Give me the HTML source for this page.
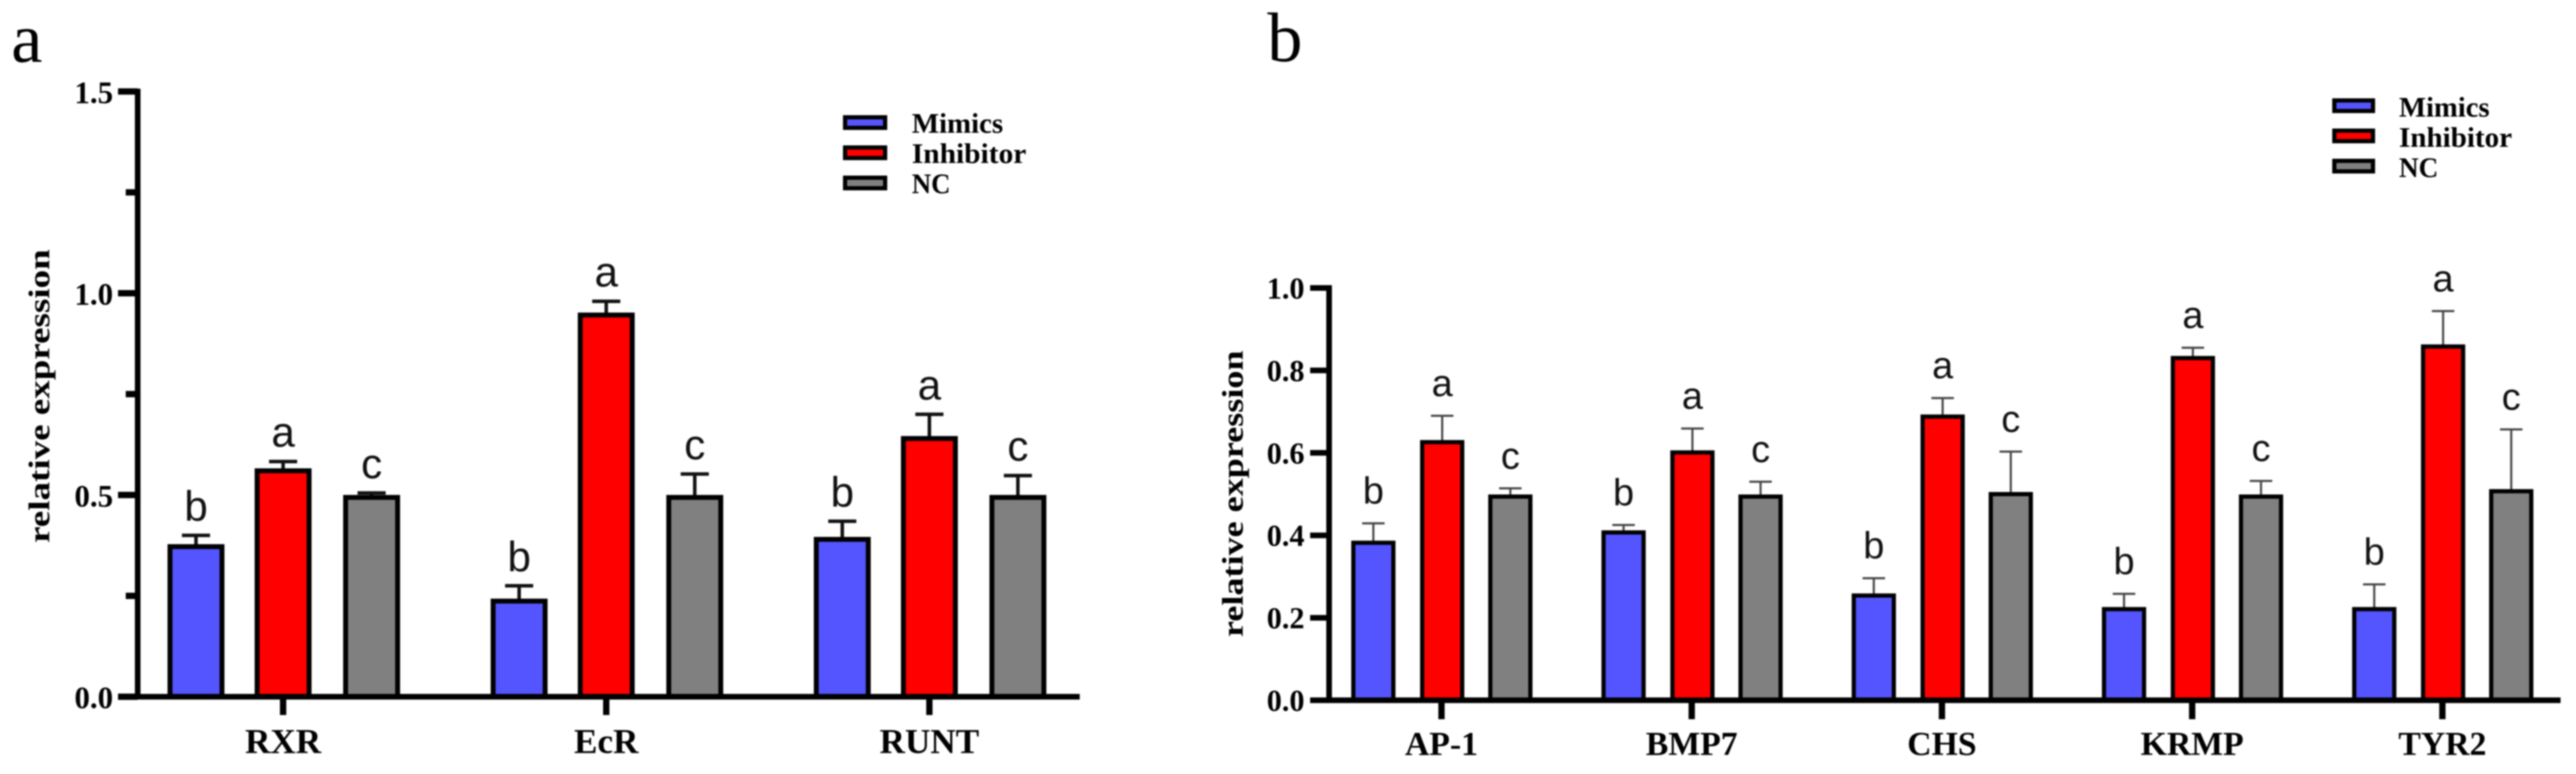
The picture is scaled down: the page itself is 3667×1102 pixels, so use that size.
<!DOCTYPE html>
<html lang="en">
<head>
<meta charset="utf-8">
<title>Relative expression bar charts</title>
<style>
html,body{margin:0;padding:0;background:#fff;width:3667px;height:1102px;overflow:hidden}
svg{display:block;filter:blur(1px)}
text{font-family:"Liberation Serif",serif;fill:#000}
.bold{font-weight:700}
.sans{font-family:"Liberation Sans",sans-serif;fill:#111}
</style>
</head>
<body>
<svg id="chart" xmlns="http://www.w3.org/2000/svg" width="3667" height="1102" viewBox="0 0 3667 1102">
  <rect x="0" y="0" width="3667" height="1102" fill="#fff"/>
  <text x="16" y="88" font-size="100">a</text>
  <text x="1804" y="87" font-size="100">b</text>
  <g id="panelA"></g>
  <g id="panelB"></g>
</svg>
<script>
// Shared
const seriesNames = ["Mimics", "Inhibitor", "NC"];
const seriesLetters = ["b", "a", "c"];
const seriesColors = ["#5555ff", "#ff0000", "#808080"];

// Panel a data
const categoriesA = ["RXR", "EcR", "RUNT"];
const mimicsA = [0.372, 0.237, 0.390];
const inhibitorA = [0.560, 0.946, 0.640];
const ncA = [0.494, 0.494, 0.494];
const mimicsErrA = [0.028, 0.038, 0.045];
const inhibitorErrA = [0.023, 0.034, 0.060];
const ncErrA = [0.011, 0.058, 0.054];
const majorTicksA = [0, 0.5, 1.0, 1.5];
const minorTicksA = [0.25, 0.75, 1.25];
const tickLabelsA = ["0.0", "0.5", "1.0", "1.5"];

// Panel b data
const categoriesB = ["AP-1", "BMP7", "CHS", "KRMP", "TYR2"];
const mimicsB = [0.382, 0.407, 0.254, 0.221, 0.221];
const inhibitorB = [0.626, 0.601, 0.688, 0.830, 0.858];
const ncB = [0.494, 0.494, 0.500, 0.494, 0.507];
const mimicsErrB = [0.047, 0.018, 0.042, 0.037, 0.060];
const inhibitorErrB = [0.064, 0.058, 0.045, 0.025, 0.086];
const ncErrB = [0.020, 0.036, 0.103, 0.038, 0.150];
const majorTicksB = [0, 0.2, 0.4, 0.6, 0.8, 1.0];
const minorTicksB = [];
const tickLabelsB = ["0.0", "0.2", "0.4", "0.6", "0.8", "1.0"];

const NS = "http://www.w3.org/2000/svg";
function make(parent, tag, attrs, txt) {
  const el = document.createElementNS(NS, tag);
  for (const k in attrs) el.setAttribute(k, attrs[k]);
  if (txt !== undefined) el.textContent = txt;
  parent.appendChild(el);
  return el;
}

function drawPanel(root, p, categories, values, errors, majors, minors, tickLabels) {
  const y = v => p.base - v * p.unit;
  const x = i => p.firstX + i * p.groupStep;

  // bars, error bars, significance letters
  categories.forEach((cat, i) => {
    values.forEach((series, s) => {
      const v = series[i];
      const e = errors[s][i];
      const cx = x(i) + p.offsets[s];
      const top = y(v + e);

      const stem = make(root, "line", {x1: cx, x2: cx, y1: y(v), y2: top, stroke: p.errColor, "stroke-width": p.errWidth});
      
      

      const cap = make(root, "line", {x1: cx - p.capW / 2, x2: cx + p.capW / 2, y1: top, y2: top, stroke: p.errColor, "stroke-width": p.errWidth});
      
      

      const bar = make(root, "rect", {x: cx - p.barW / 2, y: y(v), width: p.barW, height: p.base - y(v), fill: seriesColors[s], stroke: "#000", "stroke-width": p.barStroke});
      
      

      const letter = make(root, "text", {x: cx, y: top - p.letterGap, "text-anchor": "middle", "font-size": p.letterSize, class: "sans"}, seriesLetters[s]);
      
      
    });

    const tick = make(root, "line", {x1: x(i), x2: x(i), y1: p.base, y2: p.base + p.xTickLen, stroke: "#000", "stroke-width": 9});
    
    

    const lab = make(root, "text", {x: x(i), y: p.xLabelY, "text-anchor": "middle", "font-size": p.xFont, class: "bold"}, cat);
    
    
  });

  // axes
  const yAxis = make(root, "line", {x1: p.axisX, x2: p.axisX, y1: y(majors[majors.length - 1]) - 4, y2: p.base + 4, stroke: "#000", "stroke-width": 8});
  
  

  const xAxis = make(root, "line", {x1: p.xStart, x2: p.xEnd, y1: p.base, y2: p.base, stroke: "#000", "stroke-width": p.xAxisWidth});
  
  

  majors.forEach((t, i) => {
    const tk = make(root, "line", {x1: p.xStart, x2: p.axisX, y1: y(t), y2: y(t), stroke: "#000", "stroke-width": p.tickWidth});
    
    

    const lb = make(root, "text", {x: p.yLabelX, y: y(t) + p.yLabelDy, "text-anchor": "end", "font-size": p.yFont, class: "bold"}, tickLabels[i]);
    
    
  });

  minors.forEach(t => {
    const mt = make(root, "line", {x1: p.axisX - 17, x2: p.axisX, y1: y(t), y2: y(t), stroke: "#000", "stroke-width": p.tickWidth});
    
    
  });

  // axis title
  const title = make(root, "text", {
    x: 0, y: 0, "text-anchor": "middle", "font-size": p.titleFont, class: "bold",
    textLength: p.titleLen, lengthAdjust: "spacingAndGlyphs",
    transform: "translate(" + p.titleX + " " + p.titleY + ") rotate(-90)"
  }, "relative expression");
  
  

  // legend
  seriesNames.forEach((name, s) => {
    const yy = p.legendY + s * p.legendStep;
    const sw = make(root, "rect", {x: p.legendX, y: yy, width: p.swatchW, height: p.swatchH, fill: seriesColors[s], stroke: "#000", "stroke-width": 6});
    
    

    const tx = make(root, "text", {
      x: p.legendTextX, y: yy + p.legendTextDy, "font-size": 40, class: "bold",
      textLength: p.legendLens[s], lengthAdjust: "spacingAndGlyphs"
    }, name);
    
    
  });
}

drawPanel(document.getElementById("panelA"), {
  base: 992, unit: 574.5, firstX: 403, groupStep: 460, offsets: [-124, 0, 126],
  barW: 74, barStroke: 7, capW: 40, errWidth: 5, errColor: "#111", letterGap: 21, letterSize: 60,
  xTickLen: 26, xLabelY: 1072, xFont: 50, axisX: 196, xStart: 168, xEnd: 1537, xAxisWidth: 8, tickWidth: 9,
  yLabelX: 161, yLabelDy: 16, yFont: 44, titleFont: 42, titleLen: 418, titleX: 70, titleY: 564,
  legendX: 1203, legendY: 167, legendStep: 43, swatchW: 57, swatchH: 15,
  legendTextX: 1298, legendTextDy: 22, legendLens: [130, 163, 55]
}, categoriesA, [mimicsA, inhibitorA, ncA], [mimicsErrA, inhibitorErrA, ncErrA], majorTicksA, minorTicksA, tickLabelsA);

drawPanel(document.getElementById("panelB"), {
  base: 997, unit: 587, firstX: 2052, groupStep: 356.2, offsets: [-97, 1, 98],
  barW: 57, barStroke: 6, capW: 32, errWidth: 3, errColor: "#444", letterGap: 28, letterSize: 54,
  xTickLen: 27, xLabelY: 1075, xFont: 48, axisX: 1892, xStart: 1865, xEnd: 3645, xAxisWidth: 8, tickWidth: 8,
  yLabelX: 1857, yLabelDy: 15, yFont: 43, titleFont: 42, titleLen: 408, titleX: 1769, titleY: 703,
  legendX: 3323, legendY: 143, legendStep: 43, swatchW: 55, swatchH: 15,
  legendTextX: 3415, legendTextDy: 23, legendLens: [129, 161, 56]
}, categoriesB, [mimicsB, inhibitorB, ncB], [mimicsErrB, inhibitorErrB, ncErrB], majorTicksB, minorTicksB, tickLabelsB);
</script>
</body>
</html>
